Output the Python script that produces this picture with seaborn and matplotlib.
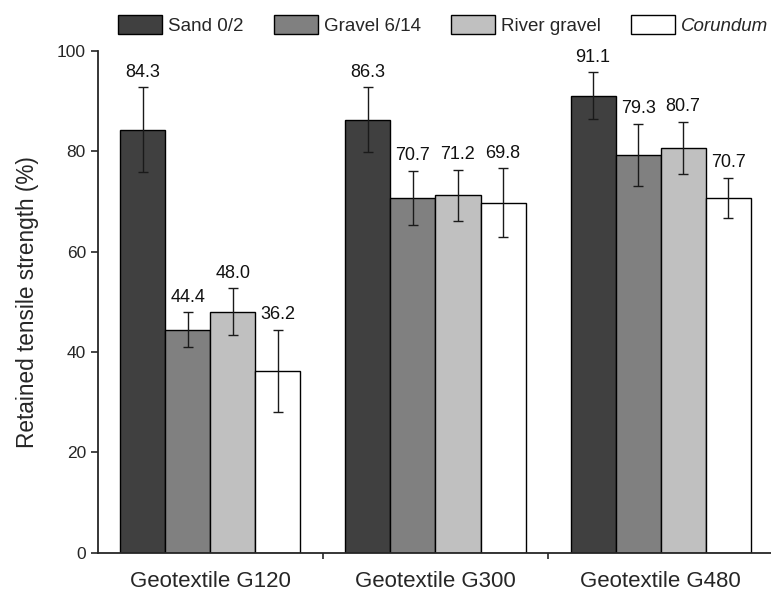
import numpy as np
import pandas as pd
import matplotlib
matplotlib.use("Agg")
import matplotlib.pyplot as plt
import seaborn as sns

# Retained tensile strength after abrasion, by geotextile and abrasive
geotextiles = ["Geotextile G120", "Geotextile G300", "Geotextile G480"]
abrasives = ["Sand 0/2", "Gravel 6/14", "River gravel", "Corundum"]
sand_mean = [84.3, 86.3, 91.1]
gravel_mean = [44.4, 70.7, 79.3]
river_mean = [48.0, 71.2, 80.7]
corundum_mean = [36.2, 69.8, 70.7]
sand_sd = [8.5, 6.5, 4.7]
gravel_sd = [3.5, 5.4, 6.2]
river_sd = [4.7, 5.1, 5.2]
corundum_sd = [8.2, 6.8, 4.0]
colors = ["#404040", "#808080", "#c0c0c0", "#ffffff"]

means = [sand_mean, gravel_mean, river_mean, corundum_mean]
sds = [sand_sd, gravel_sd, river_sd, corundum_sd]
rows = []
for a, m_list, s_list in zip(abrasives, means, sds):
    for g, m, s in zip(geotextiles, m_list, s_list):
        rows.append({"Geotextile": g, "Abrasive": a, "Mean": m, "SD": s})
df = pd.DataFrame(rows)

sns.set_style("ticks")
plt.rcParams["font.family"] = ["Liberation Sans", "DejaVu Sans"]

fig = plt.figure(figsize=(7.71, 5.93), dpi=100)
ax = fig.add_axes([0.1267, 0.068, 0.8733, 0.846])

sns.barplot(data=df, x="Geotextile", y="Mean", hue="Abrasive",
            order=geotextiles, hue_order=abrasives, palette=colors,
            errorbar=None, width=0.8, edgecolor="black", linewidth=1.0,
            saturation=1, legend=False, ax=ax)

# error bars and value labels, one container per abrasive
for cont, a in zip(ax.containers, abrasives):
    sub = df[df["Abrasive"] == a].set_index("Geotextile").loc[geotextiles]
    for bar, m, s in zip(cont, sub["Mean"], sub["SD"]):
        xc = bar.get_x() + bar.get_width() / 2
        ax.errorbar(xc, m, yerr=s, fmt="none", ecolor="#1a1a1a",
                    elinewidth=1.0, capsize=3.3, capthick=1.0, zorder=3)
        ax.text(xc, m + s + 1.3, f"{m:.1f}", ha="center", va="bottom",
                fontsize=13, color="#111111")

ax.set_xlim(-0.5, 2.49)
ax.set_ylim(0, 100)
ax.set_yticks([0, 20, 40, 60, 80, 100])
ax.set_xticks([0.5, 1.5], minor=True)
ax.tick_params(axis="x", which="major", length=0, labelsize=16, pad=13)
ax.tick_params(axis="x", which="minor", length=4, width=1.2, direction="out")
ax.tick_params(axis="y", length=5, width=1.2, labelsize=12.5, direction="out")
ax.set_xlabel("")
ax.set_ylabel("Retained tensile strength (%)", fontsize=16.3, labelpad=13)
for side in ["top", "right"]:
    ax.spines[side].set_visible(False)
for side in ["left", "bottom"]:
    ax.spines[side].set_linewidth(1.3)

handles = [plt.Rectangle((0, 0), 1, 1, facecolor=c, edgecolor="black", linewidth=1.0)
           for c in colors]
leg = fig.legend(handles, abrasives, loc="center", ncol=4, frameon=False,
                 bbox_to_anchor=(443 / 771, 1 - 25 / 593), fontsize=13.5,
                 handlelength=2.35, handleheight=1.17, handletextpad=0.32,
                 columnspacing=1.6, borderpad=0.1)
leg.get_texts()[-1].set_fontstyle("italic")

fig.savefig("out.png", dpi=100)
